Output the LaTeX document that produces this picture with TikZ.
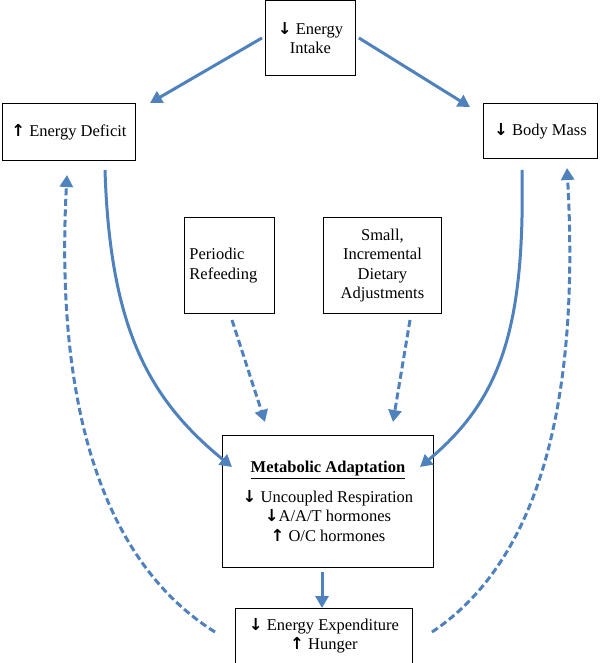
\documentclass[tikz,border=0pt]{standalone}
\usepackage{fontspec}
\setmainfont{Liberation Serif}
\newfontfamily\symf{DejaVu Sans}
\usetikzlibrary{arrows.meta}
\definecolor{arr}{HTML}{4F81BD}
\begin{document}
\begin{tikzpicture}[x=1pt,y=-1pt,
  box/.style={draw,line width=0.9pt,align=center,font=\fontsize{16.5}{19.5}\selectfont,inner sep=0pt,anchor=north west},
  con/.style={arr,line width=3pt,-{Triangle[length=12pt,width=13pt]}},
  dcon/.style={con,dash pattern=on 7pt off 3.5pt}]
\useasboundingbox (0,0) rectangle (600,663);
\newcommand{\dn}{{\symf\bfseries ↓}}
\newcommand{\up}{{\symf\bfseries ↑}}
\node[box,minimum width=90pt,minimum height=75pt] (ei) at (265,0) {\dn\ Energy\\Intake};
\node[box,minimum width=133pt,minimum height=57pt] (ed) at (2,103) {\up\ Energy Deficit};
\node[box,minimum width=114pt,minimum height=55pt] (bm) at (483,103) {\dn\ Body Mass};
\node[box,minimum width=90pt,minimum height=96pt,text width=80pt,align=left] (pr) at (184,217) {Periodic\\Refeeding};
\node[box,minimum width=118pt,minimum height=96pt] (sm) at (323,217) {Small,\\Incremental\\Dietary\\Adjustments};
\node[box,minimum width=211pt,minimum height=132pt] (ma) at (222,435) {\textbf{\underline{Metabolic Adaptation}}\\[10pt]\dn\ Uncoupled Respiration\\\dn A/A/T hormones\\\up\ O/C hormones};
\node[box,minimum width=177pt,minimum height=55pt] (ee) at (235,608) {\dn\ Energy Expenditure\\\up\ Hunger};
\draw[con] ([xshift=-3pt]ei.west) -- (150,103);
\draw[con] ([xshift=3pt]ei.east) -- (470,107);
\draw[con] (105,170) .. controls (110,330) and (150,400) .. (232,467);
\draw[con] (522,170) .. controls (525,330) and (500,400) .. (420,467);
\draw[con] (322,572) -- (ee.north -| 322,0);
\draw[dcon] (232,320) -- (265,422);
\draw[dcon] (410,320) -- (393,422);
\draw[dcon] (215,632) .. controls (100,560) and (55,400) .. (67,175);
\draw[dcon] (432,632) .. controls (540,560) and (580,400) .. (567,168);
\end{tikzpicture}
\end{document}
